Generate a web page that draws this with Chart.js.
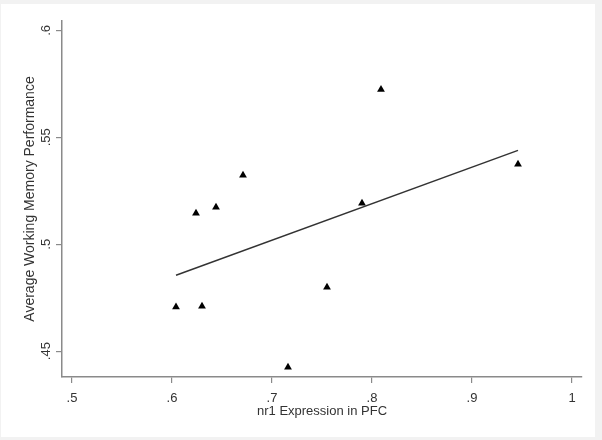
<!DOCTYPE html>
<html>
<head>
<meta charset="utf-8">
<script src="https://cdn.jsdelivr.net/npm/chart.js@4.4.1/dist/chart.umd.min.js"></script>
<style>
html,body{margin:0;padding:0;background:#fff;}
#wrap{width:602px;height:440px;}
</style>
</head>
<body>
<div id="wrap"><canvas id="c" width="602" height="440"></canvas></div>
<script>
// nr1 expression in PFC (x) vs average working memory performance (y)
const nr1Expression = [0.604, 0.630, 0.624, 0.644, 0.671, 0.716, 0.755, 0.790, 0.809, 0.946];
const wmPerformance = [0.4706, 0.4710, 0.5145, 0.5173, 0.5322, 0.4425, 0.4799, 0.5192, 0.5724, 0.5374];
// fitted line endpoints
const fitX = [0.604, 0.946];
const fitY = [0.4855, 0.5439];
const xTickValues = [0.5, 0.6, 0.7, 0.8, 0.9, 1.0];
const xTickLabels = ['.5', '.6', '.7', '.8', '.9', '1'];
const yTickValues = [0.45, 0.5, 0.55, 0.6];
const yTickLabels = ['.45', '.5', '.55', '.6'];
const xTitle = 'nr1 Expression in PFC';
const yTitle = 'Average Working Memory Performance';

const FONT = "'Liberation Sans', Arial, Helvetica, sans-serif";
const TEXT = '#333333';
const AXIS = '#8a8a8a';

const points = nr1Expression.map((x, i) => ({x: x, y: wmPerformance[i]}));
const fitLine = fitX.map((x, i) => ({x: x, y: fitY[i]}));

const bgPlugin = {
  id: 'bg',
  beforeDraw(chart) {
    const ctx = chart.ctx;
    ctx.save();
    ctx.fillStyle = '#f2f2f2';
    ctx.fillRect(0, 0, chart.width, chart.height);
    ctx.fillStyle = '#ffffff';
    ctx.fillRect(1, 4, 594, 433);
    ctx.restore();
  }
};

const yLabelPlugin = {
  id: 'yLabels',
  afterDraw(chart) {
    const ctx = chart.ctx;
    const ys = chart.scales.y;
    ctx.save();
    ctx.fillStyle = TEXT;
    ctx.font = '13px ' + FONT;
    ctx.textAlign = 'center';
    ctx.textBaseline = 'middle';
    yTickValues.forEach((v, i) => {
      const py = ys.getPixelForValue(v);
      ctx.save();
      ctx.translate(46, py);
      ctx.rotate(-Math.PI / 2);
      ctx.fillText(yTickLabels[i], 0, 0);
      ctx.restore();
    });
    ctx.restore();
  }
};

new Chart(document.getElementById('c'), {
  type: 'scatter',
  data: {
    datasets: [
      {
        type: 'line',
        data: fitLine,
        borderColor: '#333333',
        borderWidth: 1.5,
        pointRadius: 0,
        fill: false,
        tension: 0
      },
      {
        data: points,
        pointStyle: 'triangle',
        pointRadius: 4.5,
        backgroundColor: '#000000',
        borderColor: '#000000',
        borderWidth: 0
      }
    ]
  },
  options: {
    responsive: false,
    animation: false,
    devicePixelRatio: 1,
    layout: {padding: {top: 21, right: 20, left: 0, bottom: 0}},
    plugins: {legend: {display: false}, tooltip: {enabled: false}},
    scales: {
      x: {
        type: 'linear',
        min: 0.49,
        max: 1.01,
        afterBuildTicks(scale) { scale.ticks = xTickValues.map(v => ({value: v})); },
        afterFit(scale) { scale.height = 63; },
        ticks: {
          callback(v) { const i = xTickValues.findIndex(t => Math.abs(t - v) < 1e-9); return i >= 0 ? xTickLabels[i] : ''; },
          color: TEXT,
          font: {family: FONT, size: 13},
          padding: 8,
          maxRotation: 0,
          autoSkip: false
        },
        grid: {drawOnChartArea: false, drawTicks: true, tickLength: 6, color: AXIS, lineWidth: 1.2},
        border: {display: true, color: AXIS, width: 1.5},
        title: {display: true, text: xTitle, color: TEXT, font: {family: FONT, size: 13}, padding: {top: 21, bottom: 21}}
      },
      y: {
        type: 'linear',
        min: 0.4379,
        max: 0.6044,
        afterBuildTicks(scale) { scale.ticks = yTickValues.map(v => ({value: v})); },
        afterFit(scale) { scale.width = 62; },
        ticks: {display: false},
        grid: {drawOnChartArea: false, drawTicks: true, tickLength: 6, color: AXIS, lineWidth: 1.2},
        border: {display: true, color: AXIS, width: 1.5},
        title: {display: true, text: yTitle, color: TEXT, font: {family: FONT, size: 14}, padding: {top: 22, bottom: 22}}
      }
    }
  },
  plugins: [bgPlugin, yLabelPlugin]
});
</script>
</body>
</html>
